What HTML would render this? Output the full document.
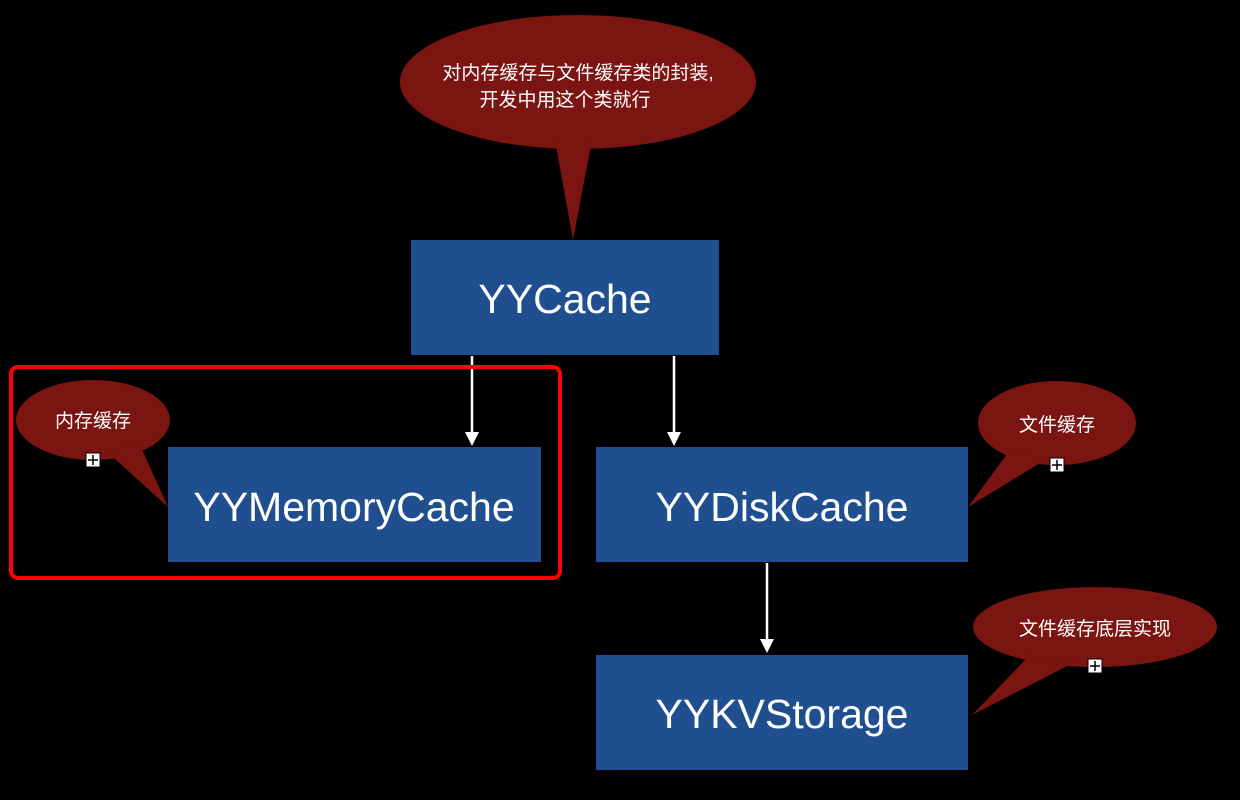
<!DOCTYPE html>
<html><head><meta charset="utf-8"><style>
html,body{margin:0;padding:0;background:#000;}
svg{display:block}
text{font-family:"Liberation Sans","Noto Sans CJK SC",sans-serif;fill:#fff}
</style></head><body>
<svg width="1240" height="800" viewBox="0 0 1240 800">
<rect width="1240" height="800" fill="#000"/>
<g fill="#7a1511">
<ellipse cx="578" cy="82" rx="178" ry="67"/>
<path d="M555,140 L573,240 L592,140 Z"/>
<ellipse cx="93" cy="420" rx="77" ry="40"/>
<path d="M105,450 L168,507 L140,445 Z"/>
<ellipse cx="1057" cy="423" rx="79" ry="42"/>
<path d="M1010,450 L968,507 L1045,460 Z"/>
<ellipse cx="1095" cy="627" rx="122" ry="40"/>
<path d="M1030,655 L972,715 L1075,662 Z"/>
</g>
<g font-size="19" text-anchor="middle">
<text x="578" y="79">对内存缓存与文件缓存类的封装,</text>
<text x="565" y="106">开发中用这个类就行</text>
<text x="93" y="427">内存缓存</text>
<text x="1057" y="431">文件缓存</text>
<text x="1095" y="635">文件缓存底层实现</text>
</g>
<g fill="#fff" stroke="#000" stroke-width="1">
<rect x="86" y="453" width="14" height="14"/><rect x="1050" y="458" width="14" height="14"/><rect x="1088" y="659" width="14" height="14"/>
</g>
<g stroke="#000" stroke-width="1.5">
<path d="M93,455v10M88,460h10"/><path d="M1057,460v10M1052,465h10"/><path d="M1095,661v10M1090,666h10"/>
</g>
<g fill="#1f4f8f">
<rect x="411" y="240" width="308" height="115"/>
<rect x="168" y="447" width="373" height="115"/>
<rect x="596" y="447" width="372" height="115"/>
<rect x="596" y="655" width="372" height="115"/>
</g>
<g font-size="41" text-anchor="middle">
<text x="565" y="313">YYCache</text>
<text x="354" y="521">YYMemoryCache</text>
<text x="782" y="521">YYDiskCache</text>
<text x="782" y="728">YYKVStorage</text>
</g>
<g stroke="#fff" stroke-width="2.5">
<line x1="472" y1="356" x2="472" y2="437"/>
<line x1="674" y1="356" x2="674" y2="437"/>
<line x1="767" y1="563" x2="767" y2="644"/>
</g>
<g fill="#fff"><path d="M465,432 L479,432 L472,446Z"/><path d="M667,432 L681,432 L674,446Z"/><path d="M760,639 L774,639 L767,653Z"/></g>
<rect x="11" y="367" width="549" height="211" rx="7" fill="none" stroke="#f00" stroke-width="4"/>
</svg>
</body></html>
